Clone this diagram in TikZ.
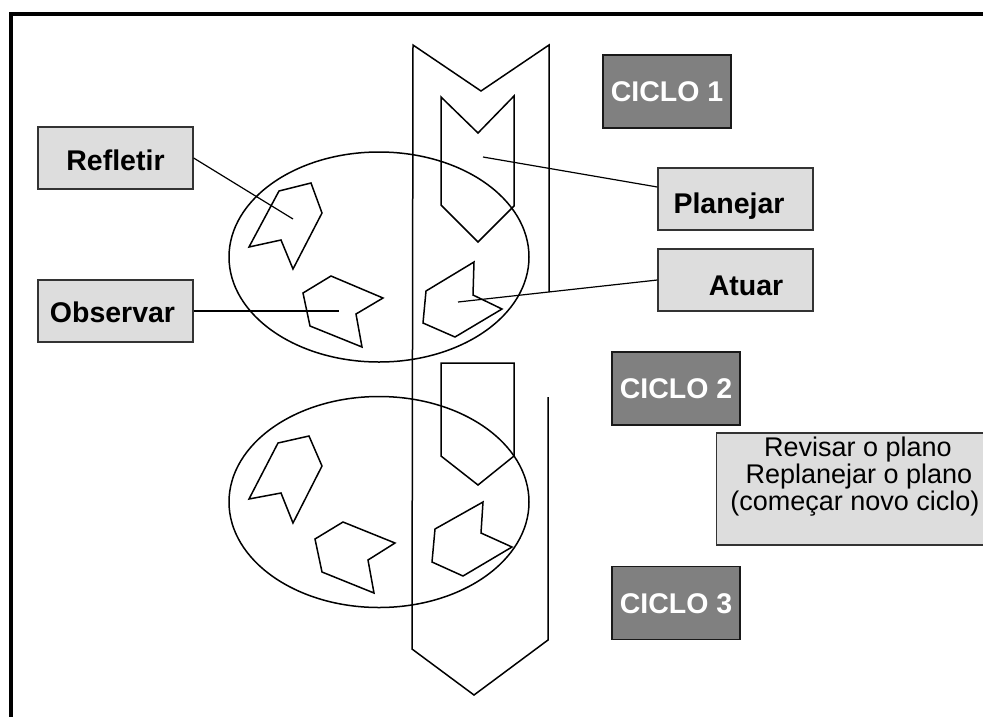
\documentclass[tikz,border=0pt]{standalone}
\usepackage{fontspec}
\setmainfont{Liberation Sans}
\definecolor{tagfill}{HTML}{DDDDDD}
\definecolor{ciclofill}{HTML}{808080}
\begin{document}
\begin{tikzpicture}[x=1pt,y=-1pt,
  outline/.style={draw=black, line width=1.5pt, line join=miter},
  link/.style={draw=black, line width=1.2pt},
  tagbox/.style={draw=black!80, line width=1.3pt, fill=tagfill, inner sep=0pt,
    minimum width=155pt, minimum height=62pt},
  tagtext/.style={font=\fontsize{28.5}{28.5}\selectfont\bfseries, anchor=base, inner sep=0pt},
  ciclobox/.style={draw=black!90, line width=1.6pt, fill=ciclofill, inner sep=0pt,
    text=white, font=\fontsize{28.5}{28.5}\selectfont\bfseries,
    minimum width=128pt, minimum height=73pt, text height=20pt, text depth=0pt},
  notebox/.style={draw=black!80, line width=1.3pt, fill=tagfill},
  notetext/.style={font=\fontsize{27}{27}\selectfont, anchor=base, inner sep=0pt}
]
\useasboundingbox (0,0) rectangle (983,716);
\clip (0,0) rectangle (983,716);
\fill[white] (0,0) rectangle (983,716);

% frame
\draw[line width=4pt] (11,720) -- (11,14) -- (990,14);

% the two cycles
\draw[outline] (379,257) ellipse [x radius=150pt, y radius=105pt];
\draw[outline] (379,502) ellipse [x radius=150pt, y radius=105.5pt];

% long vertical arrow
\draw[outline] (549,292) -- (549,45) -- (481,91) -- (413,45) -- (412,649)
  -- (474,695) -- (548,640) -- (548,397);

% cycle 1 steps
\draw[outline] (441,97) -- (478,133) -- (514,96) -- (514,206) -- (478,242) -- (441,205) -- cycle;
\draw[outline] (426,291) -- (474,262) -- (473,295) -- (502,309) -- (455,337) -- (423,323) -- cycle;
\draw[outline] (303,293) -- (331,276) -- (383,298) -- (356,314) -- (362,347) -- (310,326) -- cycle;
\draw[outline] (279,191) -- (311,183) -- (322,213) -- (293,269) -- (281,240) -- (249,247) -- cycle;

% cycle 2 steps
\draw[outline] (441,363) -- (514,363) -- (514,456) -- (478,485) -- (441,456) -- cycle;
\draw[outline] (435,529) -- (483,502) -- (481,533) -- (512,547) -- (463,576) -- (432,562) -- cycle;
\draw[outline] (315,539) -- (343,522) -- (395,543) -- (368,560) -- (374,593) -- (322,572) -- cycle;
\draw[outline] (278,443) -- (309,436) -- (322,466) -- (293,523) -- (281,493) -- (249,499) -- cycle;

% step labels
\node[tagbox] (refletir) at (115.5,158) {};
\node[tagtext] at (115.5,170) {Refletir};
\node[tagbox] (observar) at (115.5,311) {};
\node[tagtext] at (112.5,322) {Observar};
\node[tagbox] (planejar) at (735.5,199) {};
\node[tagtext] at (729,213) {Planejar};
\node[tagbox] (atuar) at (735.5,280) {};
\node[tagtext] at (746,295) {Atuar};

% connector ends inside the steps
\coordinate (refletirEnd) at (293,219);
\coordinate (observarEnd) at (339,311);
\coordinate (planejarEnd) at (483,157);
\coordinate (atuarEnd) at (458,302);

\draw[link] (refletir.east |- 0,158) -- (refletirEnd);
\draw[link] (observar.east) -- (observarEnd);
\draw[link] (planejar.west |- 0,187) -- (planejarEnd);
\draw[link] (atuar.west) -- (atuarEnd);

% cycle tags
\node[ciclobox] (ciclo1) at (667,91.5) {CICLO 1};
\node[ciclobox] (ciclo2) at (676,388.5) {CICLO 2};
\node[ciclobox] (ciclo3) at (676,603) {CICLO 3};

% note
\node[notebox, minimum width=281pt, minimum height=112pt, inner sep=0pt] (nota) at (857,489) {};
\node[notetext] at (858,456) {Revisar o plano};
\node[notetext] at (859,483.3) {Replanejar o plano};
\node[notetext] at (855,510.7) {(começar novo ciclo)};
\end{tikzpicture}
\end{document}
